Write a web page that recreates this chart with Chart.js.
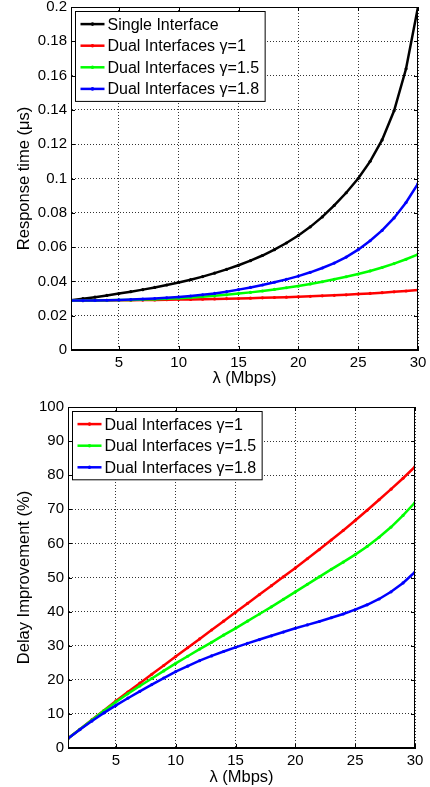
<!DOCTYPE html>
<html>
<head>
<meta charset="utf-8">
<script src="https://cdn.jsdelivr.net/npm/chart.js@4.4.1/dist/chart.umd.min.js"></script>
<style>
    html, body { margin: 0; padding: 0; background: #fff; }
    #wrap { position: relative; width: 430px; height: 787px; }
    .box { position: absolute; left: 0; width: 430px; }
</style>
</head>
<body>
<div id="wrap">
    <div class="box" style="top:0;height:395px;"><canvas id="chartTop"></canvas></div>
    <div class="box" style="top:395px;height:392px;"><canvas id="chartBottom"></canvas></div>
</div>
<script>
// lambda (Mbps), one point per integer
var lambda = [1, 2, 3, 4, 5, 6, 7, 8, 9, 10, 11, 12, 13, 14, 15, 16, 17, 18, 19, 20, 21, 22, 23, 24, 25, 26, 27, 28, 29, 30];
var xTicks = [5, 10, 15, 20, 25, 30];
var yTicksTop = [0, 0.02, 0.04, 0.06, 0.08, 0.1, 0.12, 0.14, 0.16, 0.18, 0.2];
var yTicksBottom = [0, 10, 20, 30, 40, 50, 60, 70, 80, 90, 100];

// response time (us)
var singleTime = [0.0290, 0.0299, 0.0308, 0.0318, 0.0329, 0.0340, 0.0352, 0.0365, 0.0379, 0.0394,
    0.0410, 0.0428, 0.0448, 0.0470, 0.0494, 0.0521, 0.0551, 0.0585, 0.0624, 0.0668,
    0.0718, 0.0776, 0.0843, 0.0917, 0.1000, 0.1100, 0.1225, 0.1395, 0.1640, 0.2000];
var dual1Time = [0.0288, 0.0288, 0.0289, 0.0289, 0.0290, 0.0290, 0.0291, 0.0292, 0.0293, 0.0294,
    0.0295, 0.0296, 0.0298, 0.0299, 0.0300, 0.0302, 0.0304, 0.0306, 0.0308, 0.0310,
    0.0313, 0.0316, 0.0319, 0.0322, 0.0326, 0.0330, 0.0334, 0.0339, 0.0344, 0.0350];
var dual15Time = [0.0288, 0.0288, 0.0289, 0.0290, 0.0291, 0.0292, 0.0294, 0.0296, 0.0299, 0.0302,
    0.0306, 0.0311, 0.0316, 0.0322, 0.0329, 0.0336, 0.0344, 0.0353, 0.0363, 0.0373,
    0.0385, 0.0398, 0.0412, 0.0427, 0.0443, 0.0461, 0.0481, 0.0504, 0.0529, 0.0557];
var dual18Time = [0.0288, 0.0288, 0.0289, 0.0290, 0.0292, 0.0294, 0.0297, 0.0300, 0.0304, 0.0309,
    0.0315, 0.0322, 0.0330, 0.0340, 0.0352, 0.0365, 0.0379, 0.0395, 0.0412, 0.0431,
    0.0453, 0.0478, 0.0507, 0.0542, 0.0585, 0.0637, 0.0697, 0.0770, 0.0860, 0.0970];

// delay improvement (%)
var dual1Gain = [2.8, 5.5, 8.3, 11.0, 13.8, 16.4, 19.0, 21.6, 24.2, 26.8,
    29.4, 32.0, 34.6, 37.2, 39.8, 42.4, 45.0, 47.6, 50.2, 52.8,
    55.5, 58.2, 61.0, 63.8, 66.7, 69.7, 72.8, 75.9, 79.1, 82.5];
var dual15Gain = [2.8, 5.5, 8.2, 10.9, 13.5, 15.9, 18.2, 20.4, 22.6, 24.8,
    26.9, 29.0, 31.0, 33.1, 35.1, 37.2, 39.3, 41.4, 43.6, 45.8,
    48.0, 50.2, 52.4, 54.5, 56.7, 59.1, 61.8, 64.8, 68.2, 72.0];
var dual18Gain = [2.8, 5.4, 7.9, 10.3, 12.5, 14.6, 16.6, 18.6, 20.5, 22.4,
    24.0, 25.6, 27.0, 28.3, 29.5, 30.7, 31.8, 32.9, 34.0, 35.1,
    36.1, 37.1, 38.2, 39.3, 40.6, 42.0, 43.7, 45.8, 48.4, 51.6];

var FONT = '"Liberation Sans", Arial, sans-serif';

function pts(ys) {
    return lambda.map(function (x, i) { return { x: x, y: ys[i] }; });
}

function line(label, color, ys, order) {
    return {
        label: label,
        data: pts(ys),
        borderColor: color,
        backgroundColor: color,
        borderWidth: 2.5,
        pointRadius: 1.6,
        pointBorderWidth: 0,
        tension: 0,
        order: order
    };
}

// matlab style box, inward ticks and a framed legend inside the plot
var matlabBox = {
    id: 'matlabBox',
    afterDatasetsDraw: function (chart, args, opts) {
        var ctx = chart.ctx;
        var a = chart.chartArea;
        var xs = chart.scales.x, ys = chart.scales.y;
        ctx.save();
        ctx.strokeStyle = '#000';
        ctx.lineWidth = 1;
        ctx.strokeRect(a.left + 0.5, a.top + 0.5, a.right - a.left - 1, a.bottom - a.top - 1);
        ctx.beginPath();
        xs.ticks.forEach(function (t) {
            var px = Math.round(xs.getPixelForValue(t.value)) + 0.5;
            ctx.moveTo(px, a.bottom); ctx.lineTo(px, a.bottom - 4);
            ctx.moveTo(px, a.top); ctx.lineTo(px, a.top + 4);
        });
        ys.ticks.forEach(function (t) {
            var py = Math.round(ys.getPixelForValue(t.value)) + 0.5;
            ctx.moveTo(a.left, py); ctx.lineTo(a.left + 4, py);
            ctx.moveTo(a.right, py); ctx.lineTo(a.right - 4, py);
        });
        ctx.stroke();

        // legend
        var sets = chart.data.datasets;
        ctx.font = opts.fontSize + 'px ' + FONT;
        var maxW = 0;
        sets.forEach(function (d) { maxW = Math.max(maxW, ctx.measureText(d.label).width); });
        var bx = a.left + 4.5, by = a.top + 4.5;
        var rowH = 21.6;
        var bw = 32 + maxW + 6, bh = sets.length * rowH + 3.5;
        ctx.fillStyle = '#fff';
        ctx.fillRect(bx, by, bw, bh);
        ctx.strokeRect(bx, by, bw, bh);
        ctx.textBaseline = 'middle';
        sets.forEach(function (d, i) {
            var cy = by + 1.8 + rowH / 2 + i * rowH;
            ctx.strokeStyle = d.borderColor;
            ctx.lineWidth = 2.5;
            ctx.beginPath();
            ctx.moveTo(bx + 5, cy); ctx.lineTo(bx + 29, cy);
            ctx.stroke();
            ctx.fillStyle = d.borderColor;
            ctx.beginPath();
            ctx.arc(bx + 17, cy, 1.8, 0, Math.PI * 2);
            ctx.fill();
            ctx.fillStyle = '#000';
            ctx.fillText(d.label, bx + 32, cy + 1);
        });
        ctx.restore();
    }
};

function makeOptions(cfg) {
    return {
        responsive: true,
        maintainAspectRatio: false,
        animation: false,
        layout: { padding: { top: cfg.padTop, right: cfg.padRight, left: 0, bottom: 0 } },
        plugins: {
            legend: { display: false },
            tooltip: { enabled: false },
            matlabBox: { fontSize: 16 }
        },
        scales: {
            x: {
                type: 'linear',
                min: 1,
                max: 30,
                afterBuildTicks: function (axis) {
                    axis.ticks = xTicks.map(function (v) { return { value: v }; });
                },
                afterFit: function (axis) {
                    axis.height = cfg.xHeight;
                    axis.paddingLeft = 0;
                    axis.paddingRight = 0;
                },
                ticks: { color: '#000', padding: 4, maxRotation: 0, font: { family: FONT, size: 15 } },
                grid: { color: '#333', drawTicks: false, lineWidth: 1 },
                border: { color: '#000', width: 1, dash: [1, 2] },
                title: { display: true, text: 'λ (Mbps)', color: '#000', padding: { top: 0, bottom: cfg.xTitlePad }, font: { family: FONT, size: 16.5 } }
            },
            y: {
                min: cfg.yMin,
                max: cfg.yMax,
                afterBuildTicks: function (axis) {
                    axis.ticks = cfg.yTicks.map(function (v) { return { value: v }; });
                },
                afterFit: function (axis) {
                    axis.width = cfg.yWidth;
                    axis.paddingTop = 0;
                    axis.paddingBottom = 0;
                },
                ticks: {
                    color: '#000',
                    padding: 4,
                    font: { family: FONT, size: 15 },
                    callback: function (v) { return String(Number(v.toFixed(2))); }
                },
                grid: { color: '#333', drawTicks: false, lineWidth: 1 },
                border: { color: '#000', width: 1, dash: [1, 2] },
                title: { display: true, text: cfg.yTitle, color: '#000', padding: { top: 15, bottom: 0 }, font: { family: FONT, size: 16.5 } }
            }
        }
    };
}

new Chart(document.getElementById('chartTop'), {
    type: 'line',
    data: {
        datasets: [
            line('Single Interface', '#000000', singleTime, 3),
            line('Dual Interfaces γ=1', '#ff0000', dual1Time, 2),
            line('Dual Interfaces γ=1.5', '#00ff00', dual15Time, 1),
            line('Dual Interfaces γ=1.8', '#0000ff', dual18Time, 0)
        ]
    },
    options: makeOptions({
        padTop: 7, padRight: 12, xHeight: 45, xTitlePad: 7, yWidth: 71,
        yMin: 0, yMax: 0.2, yTicks: yTicksTop, yTitle: 'Response time (μs)'
    }),
    plugins: [matlabBox]
});

new Chart(document.getElementById('chartBottom'), {
    type: 'line',
    data: {
        datasets: [
            line('Dual Interfaces γ=1', '#ff0000', dual1Gain, 2),
            line('Dual Interfaces γ=1.5', '#00ff00', dual15Gain, 1),
            line('Dual Interfaces γ=1.8', '#0000ff', dual18Gain, 0)
        ]
    },
    options: makeOptions({
        padTop: 12, padRight: 15, xHeight: 39, xTitlePad: 0, yWidth: 68,
        yMin: 0, yMax: 100, yTicks: yTicksBottom, yTitle: 'Delay Improvement (%)'
    }),
    plugins: [matlabBox]
});
</script>
</body>
</html>
